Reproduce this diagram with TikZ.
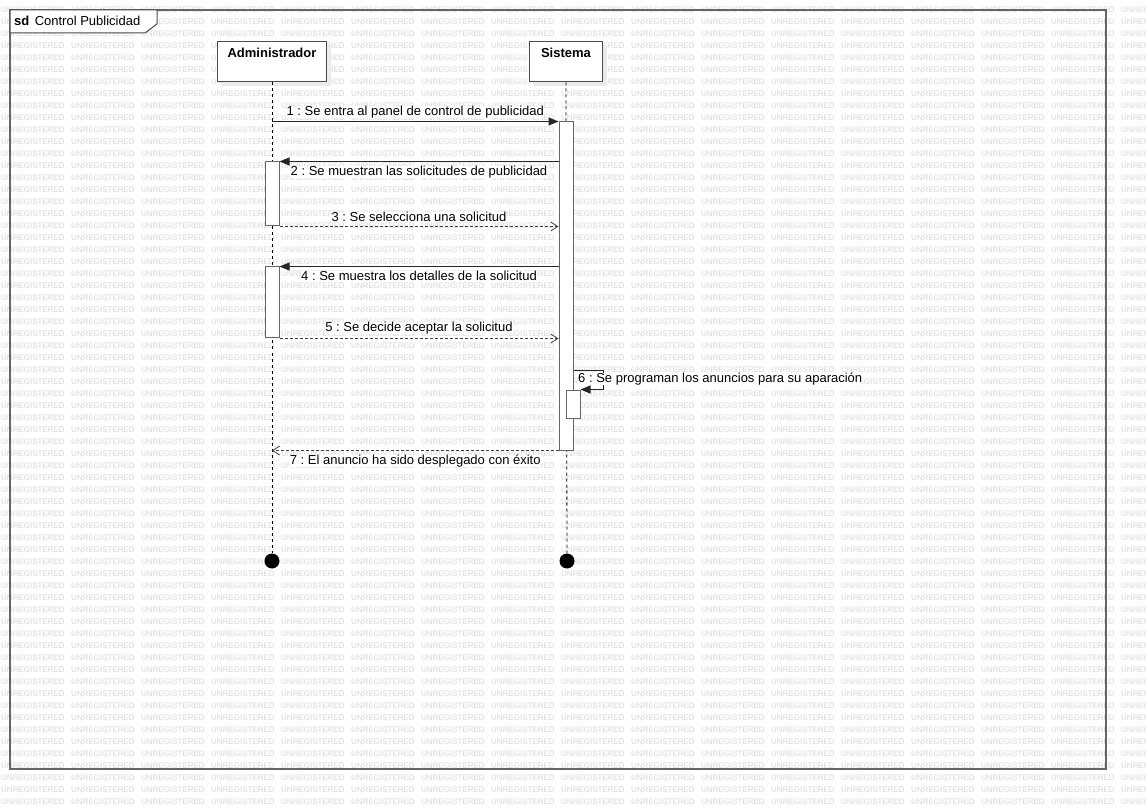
\documentclass[tikz,border=0pt]{standalone}
\usepackage{fontspec}
\setmainfont{Liberation Sans}
\usetikzlibrary{positioning, arrows.meta, shadows}
\frenchspacing

\begin{document}
\begin{tikzpicture}
			[x=1pt, y=-1pt, font=\fontsize{13}{15}\selectfont,
			wm/.style={anchor=west, inner sep=0pt, text=black!16, font=\fontsize{8}{9}\selectfont},
			head/.style={rectangle, draw=black!70, fill=white, line width=1pt, minimum height=40pt, inner sep=0pt,
				drop shadow={shadow xshift=4pt, shadow yshift=-4pt, fill=black!8, opacity=1}},
			headtext/.style={anchor=north, inner sep=0pt, yshift=-6pt, font=\fontsize{13}{15}\selectfont\bfseries},
			bar/.style={rectangle, draw=black!60, fill=white, line width=1pt, minimum width=14pt, inner sep=0pt},
			life/.style={draw=black, line width=0.8pt, dash pattern=on 3pt off 3pt},
			endpt/.style={circle, fill=black, minimum size=15pt, inner sep=0pt},
			call/.style={draw=black!85, line width=1pt, -{Triangle[length=10pt, width=8pt]}},
			reply/.style={draw=black!75, line width=1pt, dash pattern=on 3pt off 2pt, -{Straight Barb[length=7pt, width=9pt, line width=0.8pt]}},
			msg/.style={fill=white, inner sep=0pt}]
			\useasboundingbox (0,0) rectangle (1146,810);
			\foreach \r in {0,...,66}
				\foreach \c in {0,...,16}
					\node[wm] at (\c*70+1, 9.5+\r*12) {UNREGISTERED};
			\draw[draw=black!60, line width=1.5pt] (10,10) rectangle (1106,769);
			\draw[draw=black!70, fill=white, line width=1pt] (10,10) -- (157,10) -- (157,24) -- (145,33) -- (10,33) -- cycle;
			\node[inner sep=0pt, anchor=west, font=\fontsize{13}{15}\selectfont\bfseries] (sd) at (14,20.5) {sd};
			\node[inner sep=0pt, anchor=west] (title) [right=5pt of sd] {Control Publicidad};
			\node[head, minimum width=109pt, label={[headtext]north:Administrador}] (admin) at (272,62) {};
			\node[head, minimum width=73pt, label={[headtext]north:Sistema}] (sys) at (566,62) {};
			\node[endpt] (admend) at (272,561) {};
			\node[endpt] (sysend) at (567,561) {};
			\draw[life] (admin.south) -- (admend);
			\draw[life] (sys.south) -- (sysend);
			\node[bar, minimum height=328pt] (sysact) at (566,286) {};
			\node[bar, minimum height=64pt] (admact1) at (272,194) {};
			\node[bar, minimum height=71pt] (admact2) at (272,302.5) {};
			\node[bar, minimum height=28pt] (selfact) at (573,404) {};
			\coordinate (loop) at (603,370);
			\draw[call] (admin |- sysact.north) -- node[msg, above=3pt] {1 : Se entra al panel de control de publicidad} (sysact.north west);
			\draw[call] (sysact.west |- admact1.north) -- node[msg, below=4pt] {2 : Se muestran las solicitudes de publicidad} (admact1.north east);
			\draw[reply] (admact1.south east) -- node[msg, above=4pt] {3 : Se selecciona una solicitud} (sysact.west |- admact1.south);
			\draw[call] (sysact.west |- admact2.north) -- node[msg, below=4pt] {4 : Se muestra los detalles de la solicitud} (admact2.north east);
			\draw[reply] (admact2.south east) -- node[msg, above=4pt] {5 : Se decide aceptar la solicitud} (sysact.west |- admact2.south);
			\draw[call] (sysact.east |- loop) -- (loop) |- (selfact.north east);
			\node[msg, anchor=north west] (m6) at (578,373) {6 : Se programan los anuncios para su aparación};
			\draw[reply] (sysact.south west) -- node[msg, below=4pt] {7 : El anuncio ha sido desplegado con éxito} (admin |- sysact.south);
		\end{tikzpicture}
\end{document}
